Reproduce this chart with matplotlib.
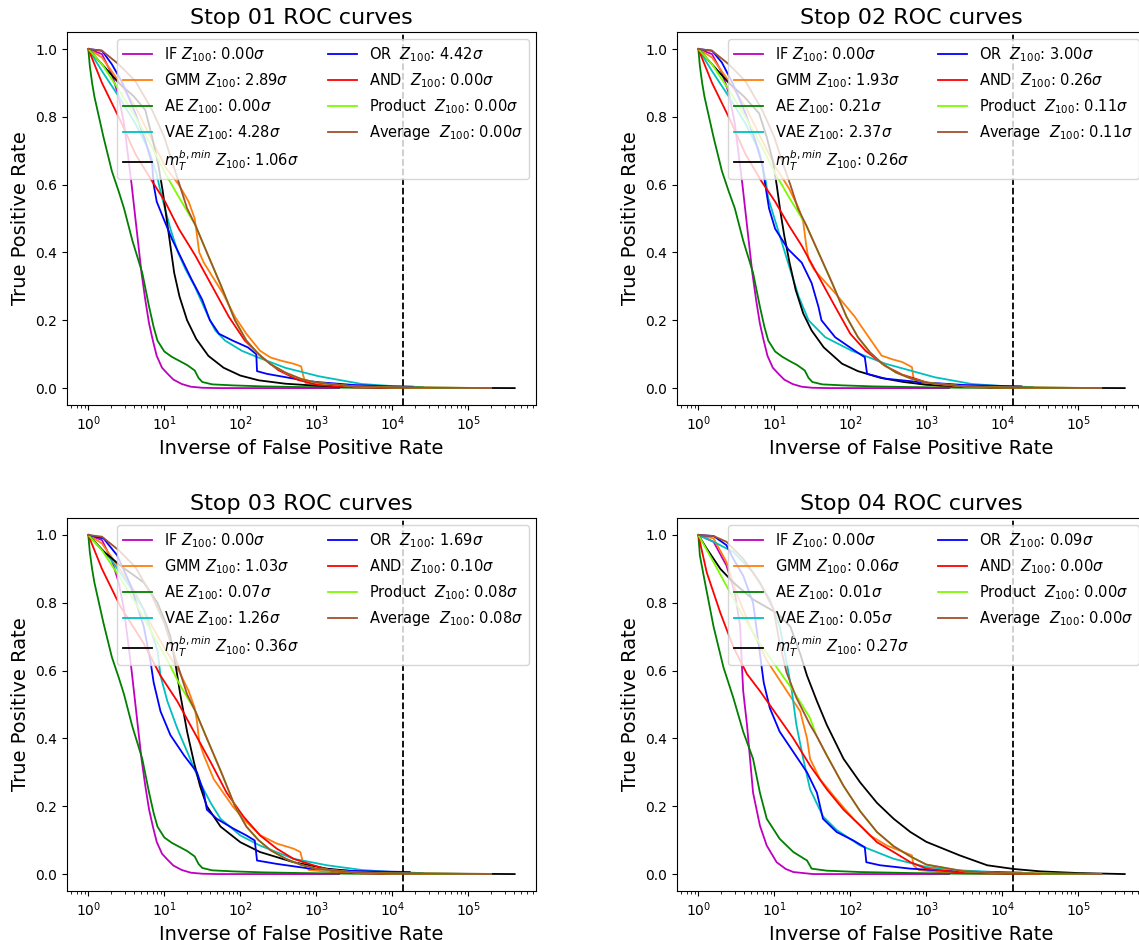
import numpy as np
import matplotlib.pyplot as plt

# ---- data ----
stop_names = ["01", "02", "03", "04"]
dashed_inv_fpr = 1.4e4

method_names = ["IF", "GMM", "AE", "VAE", r"$m_T^{b,min}$", "OR ", "AND ", "Product ", "Average "]
method_colors = ["m", "#ff7f0e", "g", "c", "k", "b", "r", "#7cfc00", "sienna"]

# Z_100 significance per stop (01..04)
z_if = [0.00, 0.00, 0.00, 0.00]
z_gmm = [2.89, 1.93, 1.03, 0.06]
z_ae = [0.00, 0.21, 0.07, 0.01]
z_vae = [4.28, 2.37, 1.26, 0.05]
z_mt = [1.06, 0.26, 0.36, 0.27]
z_or = [4.42, 3.00, 1.69, 0.09]
z_and = [0.00, 0.26, 0.10, 0.00]
z_prod = [0.00, 0.11, 0.08, 0.00]
z_avg = [0.00, 0.11, 0.08, 0.00]

# ROC points per stop: (log10 of inverse FPR, TPR)
roc_if = [
    [(0, 1), (0.18, 0.985), (0.31, 0.925), (0.40, 0.86), (0.47, 0.78), (0.52, 0.69), (0.57, 0.60),
     (0.62, 0.50), (0.66, 0.42), (0.70, 0.34), (0.75, 0.26), (0.80, 0.19), (0.85, 0.14), (0.90, 0.095),
     (0.97, 0.06), (1.04, 0.043), (1.12, 0.025), (1.23, 0.012), (1.35, 0.004), (1.5, 0.001), (1.7, 0), (3.3, 0)],
    [(0, 1), (0.18, 0.985), (0.31, 0.93), (0.40, 0.87), (0.48, 0.78), (0.53, 0.69), (0.58, 0.60),
     (0.63, 0.50), (0.67, 0.42), (0.71, 0.34), (0.76, 0.26), (0.81, 0.19), (0.86, 0.14), (0.91, 0.095),
     (0.98, 0.06), (1.05, 0.043), (1.13, 0.025), (1.24, 0.012), (1.36, 0.004), (1.5, 0.001), (1.7, 0), (3.3, 0)],
    [(0, 1), (0.18, 0.985), (0.31, 0.925), (0.40, 0.86), (0.47, 0.78), (0.52, 0.69), (0.57, 0.60),
     (0.62, 0.50), (0.66, 0.42), (0.70, 0.34), (0.75, 0.26), (0.80, 0.19), (0.85, 0.14), (0.90, 0.095),
     (0.97, 0.06), (1.04, 0.043), (1.12, 0.025), (1.23, 0.012), (1.35, 0.004), (1.5, 0.001), (1.7, 0), (3.3, 0)],
    [(0, 1), (0.2, 0.98), (0.37, 0.91), (0.48, 0.83), (0.55, 0.73), (0.57, 0.63), (0.59, 0.54),
     (0.64, 0.44), (0.68, 0.34), (0.72, 0.24), (0.81, 0.143), (0.90, 0.084), (1.03, 0.035), (1.15, 0.015),
     (1.25, 0.006), (1.51, 0), (3.3, 0)],
]
roc_gmm = [
    [(0, 1), (0.18, 0.975), (0.40, 0.905), (0.62, 0.83), (0.84, 0.73), (1.02, 0.65), (1.19, 0.60),
     (1.32, 0.55), (1.40, 0.50), (1.43, 0.45), (1.46, 0.40), (1.52, 0.37), (1.63, 0.33), (1.77, 0.28),
     (1.93, 0.21), (2.08, 0.16), (2.26, 0.11), (2.40, 0.09), (2.55, 0.08), (2.70, 0.072), (2.80, 0.064),
     (2.83, 0.035), (2.86, 0.015), (3.2, 0.006), (3.8, 0.002), (5.3, 0)],
    [(0, 1), (0.18, 0.975), (0.40, 0.905), (0.62, 0.83), (0.84, 0.73), (1.02, 0.65), (1.19, 0.59),
     (1.32, 0.53), (1.38, 0.49), (1.42, 0.42), (1.45, 0.38), (1.52, 0.35), (1.80, 0.28), (2.06, 0.21),
     (2.15, 0.18), (2.41, 0.096), (2.55, 0.085), (2.68, 0.077), (2.81, 0.062), (2.83, 0.03), (2.9, 0.012),
     (3.2, 0.006), (3.8, 0.002), (5.3, 0)],
    [(0, 1), (0.18, 0.975), (0.40, 0.905), (0.62, 0.83), (0.84, 0.73), (1.02, 0.66), (1.19, 0.60),
     (1.32, 0.54), (1.40, 0.49), (1.43, 0.45), (1.46, 0.39), (1.52, 0.35), (1.65, 0.28), (1.90, 0.20),
     (2.05, 0.16), (2.26, 0.115), (2.48, 0.09), (2.70, 0.075), (2.79, 0.065), (2.83, 0.03), (2.9, 0.012),
     (3.2, 0.006), (3.8, 0.002), (5.3, 0)],
    [(0, 1), (0.2, 0.99), (0.37, 0.92), (0.50, 0.83), (0.68, 0.73), (0.90, 0.63), (1.12, 0.555),
     (1.34, 0.48), (1.43, 0.40), (1.47, 0.34), (1.60, 0.28), (1.82, 0.22), (2.04, 0.163), (2.26, 0.114),
     (2.48, 0.084), (2.70, 0.065), (2.81, 0.055), (2.83, 0.026), (2.9, 0.012), (3.2, 0.005), (3.8, 0.002),
     (5.3, 0)],
]
roc_ae = [
    [(0, 1), (0.02, 0.95), (0.05, 0.90), (0.08, 0.86), (0.12, 0.82), (0.2, 0.74), (0.31, 0.64), (0.40, 0.58),
     (0.47, 0.53), (0.58, 0.435), (0.71, 0.34), (0.80, 0.24), (0.86, 0.18), (0.91, 0.14), (1.0, 0.108),
     (1.1, 0.092), (1.2, 0.08), (1.3, 0.068), (1.4, 0.052), (1.45, 0.03), (1.5, 0.018), (1.63, 0.011),
     (1.9, 0.008), (2.3, 0.005), (2.8, 0.003), (3.5, 0.001), (5.2, 0)],
    [(0, 1), (0.02, 0.95), (0.05, 0.90), (0.08, 0.86), (0.12, 0.82), (0.2, 0.74), (0.31, 0.64), (0.40, 0.58),
     (0.48, 0.53), (0.59, 0.435), (0.72, 0.34), (0.81, 0.24), (0.87, 0.18), (0.92, 0.14), (1.01, 0.108),
     (1.1, 0.093), (1.2, 0.08), (1.3, 0.068), (1.4, 0.052), (1.45, 0.03), (1.5, 0.018), (1.63, 0.011),
     (1.9, 0.008), (2.3, 0.005), (2.8, 0.003), (3.5, 0.001), (5.2, 0)],
    [(0, 1), (0.02, 0.95), (0.05, 0.90), (0.08, 0.86), (0.12, 0.82), (0.2, 0.74), (0.31, 0.64), (0.40, 0.58),
     (0.47, 0.53), (0.58, 0.435), (0.71, 0.34), (0.80, 0.24), (0.86, 0.18), (0.91, 0.14), (1.0, 0.108),
     (1.1, 0.092), (1.2, 0.08), (1.3, 0.068), (1.4, 0.052), (1.45, 0.03), (1.5, 0.018), (1.63, 0.011),
     (1.9, 0.008), (2.3, 0.005), (2.8, 0.003), (3.5, 0.001), (5.2, 0)],
    [(0, 1), (0.02, 0.94), (0.07, 0.88), (0.20, 0.73), (0.33, 0.61), (0.46, 0.52), (0.59, 0.42), (0.72, 0.34),
     (0.81, 0.24), (0.90, 0.163), (1.07, 0.104), (1.25, 0.065), (1.43, 0.04), (1.49, 0.016), (1.69, 0.01),
     (2.13, 0.006), (2.8, 0.003), (3.5, 0.001), (5.2, 0)],
]
roc_vae = [
    [(0, 1), (0.18, 0.935), (0.40, 0.86), (0.62, 0.78), (0.80, 0.70), (0.90, 0.63), (0.95, 0.58),
     (1.02, 0.52), (1.08, 0.47), (1.18, 0.40), (1.28, 0.35), (1.40, 0.30), (1.50, 0.25), (1.58, 0.21),
     (1.67, 0.17), (1.80, 0.14), (2.02, 0.11), (2.24, 0.09), (2.59, 0.06), (3.03, 0.035), (3.4, 0.02),
     (3.6, 0.012), (4.0, 0.006), (4.4, 0.003)],
    [(0, 1), (0.18, 0.935), (0.40, 0.86), (0.62, 0.78), (0.80, 0.70), (0.88, 0.62), (0.92, 0.56),
     (1.05, 0.465), (1.18, 0.37), (1.32, 0.27), (1.45, 0.20), (1.67, 0.15), (2.02, 0.11), (2.46, 0.072),
     (3.11, 0.032), (3.6, 0.012), (4.0, 0.006), (4.4, 0.003)],
    [(0, 1), (0.29, 0.93), (0.51, 0.86), (0.73, 0.78), (0.91, 0.66), (0.95, 0.585), (1.04, 0.51),
     (1.17, 0.43), (1.34, 0.34), (1.47, 0.27), (1.61, 0.21), (1.74, 0.163), (2.0, 0.114), (2.26, 0.084),
     (2.7, 0.045), (3.14, 0.026), (3.6, 0.012), (4.0, 0.006), (4.4, 0.003)],
    [(0, 1), (0.2, 0.98), (0.46, 0.95), (0.72, 0.89), (0.94, 0.81), (1.07, 0.73), (1.14, 0.65),
     (1.23, 0.54), (1.29, 0.44), (1.38, 0.34), (1.47, 0.25), (1.64, 0.17), (1.82, 0.13), (2.13, 0.084),
     (2.57, 0.045), (3.0, 0.021), (3.44, 0.011), (4.0, 0.005), (4.4, 0.003)],
]
roc_mt = [
    [(0, 1), (0.2, 0.95), (0.4, 0.90), (0.6, 0.86), (0.75, 0.82), (0.84, 0.74), (0.92, 0.66), (0.98, 0.58),
     (1.03, 0.50), (1.08, 0.42), (1.13, 0.34), (1.20, 0.27), (1.30, 0.20), (1.42, 0.145), (1.58, 0.095),
     (1.78, 0.06), (2.0, 0.037), (2.24, 0.023), (2.59, 0.013), (3.0, 0.007), (3.5, 0.003), (4.0, 0.002),
     (4.6, 0.001), (5.61, 0)],
    [(0, 1), (0.2, 0.95), (0.4, 0.90), (0.6, 0.86), (0.8, 0.81), (0.9, 0.74), (0.98, 0.67), (1.03, 0.60),
     (1.08, 0.52), (1.13, 0.45), (1.20, 0.37), (1.28, 0.29), (1.38, 0.22), (1.49, 0.17), (1.65, 0.12),
     (1.89, 0.072), (2.1, 0.05), (2.4, 0.03), (2.7, 0.018), (3.0, 0.01), (3.5, 0.004), (4.0, 0.002),
     (4.6, 0.001), (5.61, 0)],
    [(0, 1), (0.21, 0.95), (0.42, 0.91), (0.73, 0.86), (0.91, 0.80), (1.02, 0.74), (1.08, 0.70), (1.15, 0.615),
     (1.21, 0.53), (1.30, 0.42), (1.39, 0.33), (1.47, 0.26), (1.56, 0.20), (1.74, 0.14), (2.0, 0.094),
     (2.26, 0.065), (2.7, 0.035), (3.14, 0.016), (3.6, 0.006), (4.2, 0.002), (5.61, 0)],
    [(0, 1), (0.11, 0.96), (0.29, 0.90), (0.46, 0.86), (0.72, 0.81), (1.03, 0.77), (1.21, 0.73), (1.34, 0.65),
     (1.43, 0.585), (1.56, 0.51), (1.69, 0.44), (1.91, 0.34), (2.13, 0.27), (2.35, 0.21), (2.57, 0.163),
     (2.79, 0.124), (3.0, 0.095), (3.44, 0.055), (3.8, 0.026), (4.15, 0.015), (4.5, 0.008), (5.0, 0.003),
     (5.61, 0)],
]
roc_or = [
    [(0, 1), (0.18, 0.995), (0.31, 0.955), (0.45, 0.90), (0.62, 0.81), (0.75, 0.73), (0.84, 0.66),
     (0.86, 0.60), (0.90, 0.55), (0.99, 0.50), (1.10, 0.44), (1.23, 0.38), (1.36, 0.32), (1.50, 0.26),
     (1.60, 0.20), (1.72, 0.16), (1.90, 0.14), (2.10, 0.12), (2.21, 0.10), (2.22, 0.05), (2.35, 0.042),
     (2.5, 0.036), (2.75, 0.026), (3.0, 0.018), (3.5, 0.009), (4.0, 0.005), (4.27, 0.004)],
    [(0, 1), (0.18, 0.995), (0.31, 0.96), (0.45, 0.90), (0.62, 0.81), (0.75, 0.73), (0.84, 0.66),
     (0.88, 0.60), (0.93, 0.53), (1.01, 0.47), (1.18, 0.41), (1.36, 0.37), (1.49, 0.31), (1.58, 0.24),
     (1.62, 0.20), (1.80, 0.15), (2.06, 0.11), (2.19, 0.091), (2.22, 0.042), (2.46, 0.028), (2.89, 0.018),
     (3.5, 0.009), (4.25, 0.005)],
    [(0, 1), (0.2, 0.99), (0.38, 0.94), (0.56, 0.85), (0.73, 0.73), (0.82, 0.625), (0.86, 0.565),
     (0.95, 0.48), (1.08, 0.41), (1.26, 0.35), (1.43, 0.30), (1.52, 0.24), (1.56, 0.19), (1.69, 0.163),
     (1.91, 0.134), (2.08, 0.114), (2.19, 0.099), (2.22, 0.04), (2.48, 0.03), (2.92, 0.016), (3.5, 0.009),
     (4.23, 0.006)],
    [(0, 1), (0.2, 0.997), (0.37, 0.97), (0.46, 0.93), (0.59, 0.88), (0.72, 0.80), (0.81, 0.65),
     (0.86, 0.565), (0.94, 0.49), (1.07, 0.42), (1.25, 0.36), (1.43, 0.30), (1.56, 0.24), (1.64, 0.163),
     (1.82, 0.124), (2.04, 0.099), (2.19, 0.079), (2.21, 0.035), (2.39, 0.026), (2.79, 0.016), (3.36, 0.008),
     (4.25, 0.004)],
]
roc_and = [
    [(0, 1), (0.18, 0.90), (0.42, 0.79), (0.62, 0.69), (0.84, 0.61), (1.01, 0.55), (1.19, 0.47),
     (1.41, 0.39), (1.63, 0.30), (1.85, 0.21), (2.06, 0.14), (2.28, 0.092), (2.5, 0.053), (2.76, 0.024),
     (3.03, 0.009), (3.5, 0.002), (4.5, 0)],
    [(0, 1), (0.18, 0.90), (0.42, 0.79), (0.62, 0.69), (0.83, 0.61), (1.01, 0.55), (1.19, 0.48),
     (1.36, 0.42), (1.58, 0.33), (1.80, 0.24), (2.0, 0.16), (2.2, 0.11), (2.46, 0.065), (2.68, 0.04),
     (3.03, 0.015), (3.5, 0.003), (4.5, 0)],
    [(0, 1), (0.18, 0.90), (0.42, 0.79), (0.73, 0.68), (0.95, 0.585), (1.17, 0.51), (1.39, 0.42),
     (1.61, 0.33), (1.82, 0.24), (2.04, 0.17), (2.26, 0.114), (2.48, 0.075), (2.7, 0.045), (2.96, 0.026),
     (3.2, 0.01), (3.6, 0.002), (4.5, 0)],
    [(0, 1), (0.11, 0.89), (0.29, 0.77), (0.46, 0.67), (0.64, 0.59), (0.81, 0.54), (1.03, 0.47),
     (1.25, 0.40), (1.47, 0.32), (1.69, 0.25), (1.91, 0.19), (2.13, 0.143), (2.35, 0.094), (2.57, 0.065),
     (2.79, 0.035), (3.0, 0.016), (3.5, 0.003), (4.5, 0)],
]
roc_prod = [
    [(0, 1), (0.18, 0.955), (0.40, 0.88), (0.62, 0.80), (0.84, 0.71), (1.02, 0.63), (1.2, 0.56),
     (1.41, 0.48), (1.56, 0.40), (1.75, 0.30), (1.93, 0.20), (2.08, 0.14), (2.24, 0.10), (2.4, 0.07),
     (2.6, 0.045), (2.8, 0.027), (3.0, 0.016), (3.5, 0.005), (4.0, 0.002), (5.3, 0)],
    [(0, 1), (0.18, 0.955), (0.40, 0.88), (0.62, 0.80), (0.84, 0.71), (1.02, 0.63), (1.2, 0.56),
     (1.42, 0.48), (1.58, 0.40), (1.76, 0.31), (1.95, 0.21), (2.1, 0.15), (2.26, 0.105), (2.42, 0.072),
     (2.6, 0.046), (2.8, 0.028), (3.0, 0.016), (3.5, 0.005), (4.0, 0.002), (5.3, 0)],
    [(0, 1), (0.18, 0.955), (0.40, 0.88), (0.62, 0.80), (0.84, 0.71), (1.02, 0.64), (1.2, 0.56),
     (1.41, 0.48), (1.56, 0.40), (1.75, 0.30), (1.93, 0.20), (2.08, 0.14), (2.24, 0.10), (2.4, 0.07),
     (2.6, 0.045), (2.8, 0.027), (3.0, 0.016), (3.5, 0.005), (4.0, 0.002), (5.3, 0)],
    [(0, 1), (0.2, 0.92), (0.37, 0.85), (0.59, 0.76), (0.81, 0.68), (1.03, 0.61), (1.25, 0.54),
     (1.47, 0.46), (1.55, 0.41), (1.69, 0.35), (1.91, 0.26), (2.13, 0.185), (2.35, 0.124), (2.57, 0.082),
     (2.79, 0.052), (3.0, 0.028), (3.5, 0.008), (4.0, 0.003), (5.3, 0)],
]
roc_avg = [
    [(0, 1), (0.18, 0.995), (0.40, 0.955), (0.62, 0.905), (0.84, 0.82), (1.0, 0.74), (1.10, 0.67),
     (1.20, 0.60), (1.30, 0.53), (1.41, 0.48), (1.56, 0.40), (1.75, 0.30), (1.93, 0.20), (2.08, 0.14),
     (2.24, 0.10), (2.4, 0.07), (2.6, 0.045), (2.8, 0.027), (3.0, 0.016), (3.5, 0.005), (4.0, 0.002), (5.3, 0)],
    [(0, 1), (0.18, 0.995), (0.40, 0.955), (0.62, 0.905), (0.84, 0.82), (1.0, 0.74), (1.10, 0.67),
     (1.21, 0.60), (1.31, 0.53), (1.42, 0.48), (1.58, 0.40), (1.76, 0.31), (1.95, 0.21), (2.1, 0.15),
     (2.26, 0.105), (2.42, 0.072), (2.6, 0.046), (2.8, 0.028), (3.0, 0.016), (3.5, 0.005), (4.0, 0.002),
     (5.3, 0)],
    [(0, 1), (0.18, 0.995), (0.40, 0.955), (0.62, 0.905), (0.84, 0.82), (1.0, 0.74), (1.10, 0.67),
     (1.20, 0.60), (1.30, 0.53), (1.41, 0.48), (1.56, 0.40), (1.75, 0.30), (1.93, 0.20), (2.08, 0.14),
     (2.24, 0.10), (2.4, 0.07), (2.6, 0.045), (2.8, 0.027), (3.0, 0.016), (3.5, 0.005), (4.0, 0.002), (5.3, 0)],
    [(0, 1), (0.2, 0.997), (0.37, 0.98), (0.59, 0.93), (0.81, 0.86), (0.99, 0.78), (1.07, 0.68),
     (1.16, 0.595), (1.29, 0.52), (1.47, 0.44), (1.55, 0.41), (1.69, 0.35), (1.91, 0.26), (2.13, 0.185),
     (2.35, 0.124), (2.57, 0.082), (2.79, 0.052), (3.0, 0.028), (3.5, 0.008), (4.0, 0.003), (5.3, 0)],
]

all_roc = [roc_if, roc_gmm, roc_ae, roc_vae, roc_mt, roc_or, roc_and, roc_prod, roc_avg]
all_z = [z_if, z_gmm, z_ae, z_vae, z_mt, z_or, z_and, z_prod, z_avg]

# ---- figure ----
fig = plt.figure(figsize=(11.39, 9.40), dpi=100)
col_left = [0.0588, 0.5944]
row_bottom = [0.5691, 0.0521]
ax_w, ax_h = 0.4118, 0.3968

for i, stop in enumerate(stop_names):
    ax = fig.add_axes([col_left[i % 2], row_bottom[i // 2], ax_w, ax_h])
    for name, color, roc, z in zip(method_names, method_colors, all_roc, all_z):
        pts = np.array(roc[i], dtype=float)
        ax.plot(10 ** pts[:, 0], pts[:, 1], color=color, lw=1.3,
                label=f"{name} $Z_{{100}}$: {z[i]:.2f}$\\sigma$")
    ax.axvline(dashed_inv_fpr, color="k", ls="--", lw=1.3)
    ax.set_xscale("log")
    ax.set_title(f"Stop {stop} ROC curves", fontsize=16)
    ax.set_xlabel("Inverse of False Positive Rate", fontsize=14)
    ax.set_ylabel("True Positive Rate", fontsize=14)
    ax.tick_params(labelsize=10)
    ax.legend(loc="upper right", ncol=2, fontsize=10.5)

fig.savefig("out.png", dpi=100)
